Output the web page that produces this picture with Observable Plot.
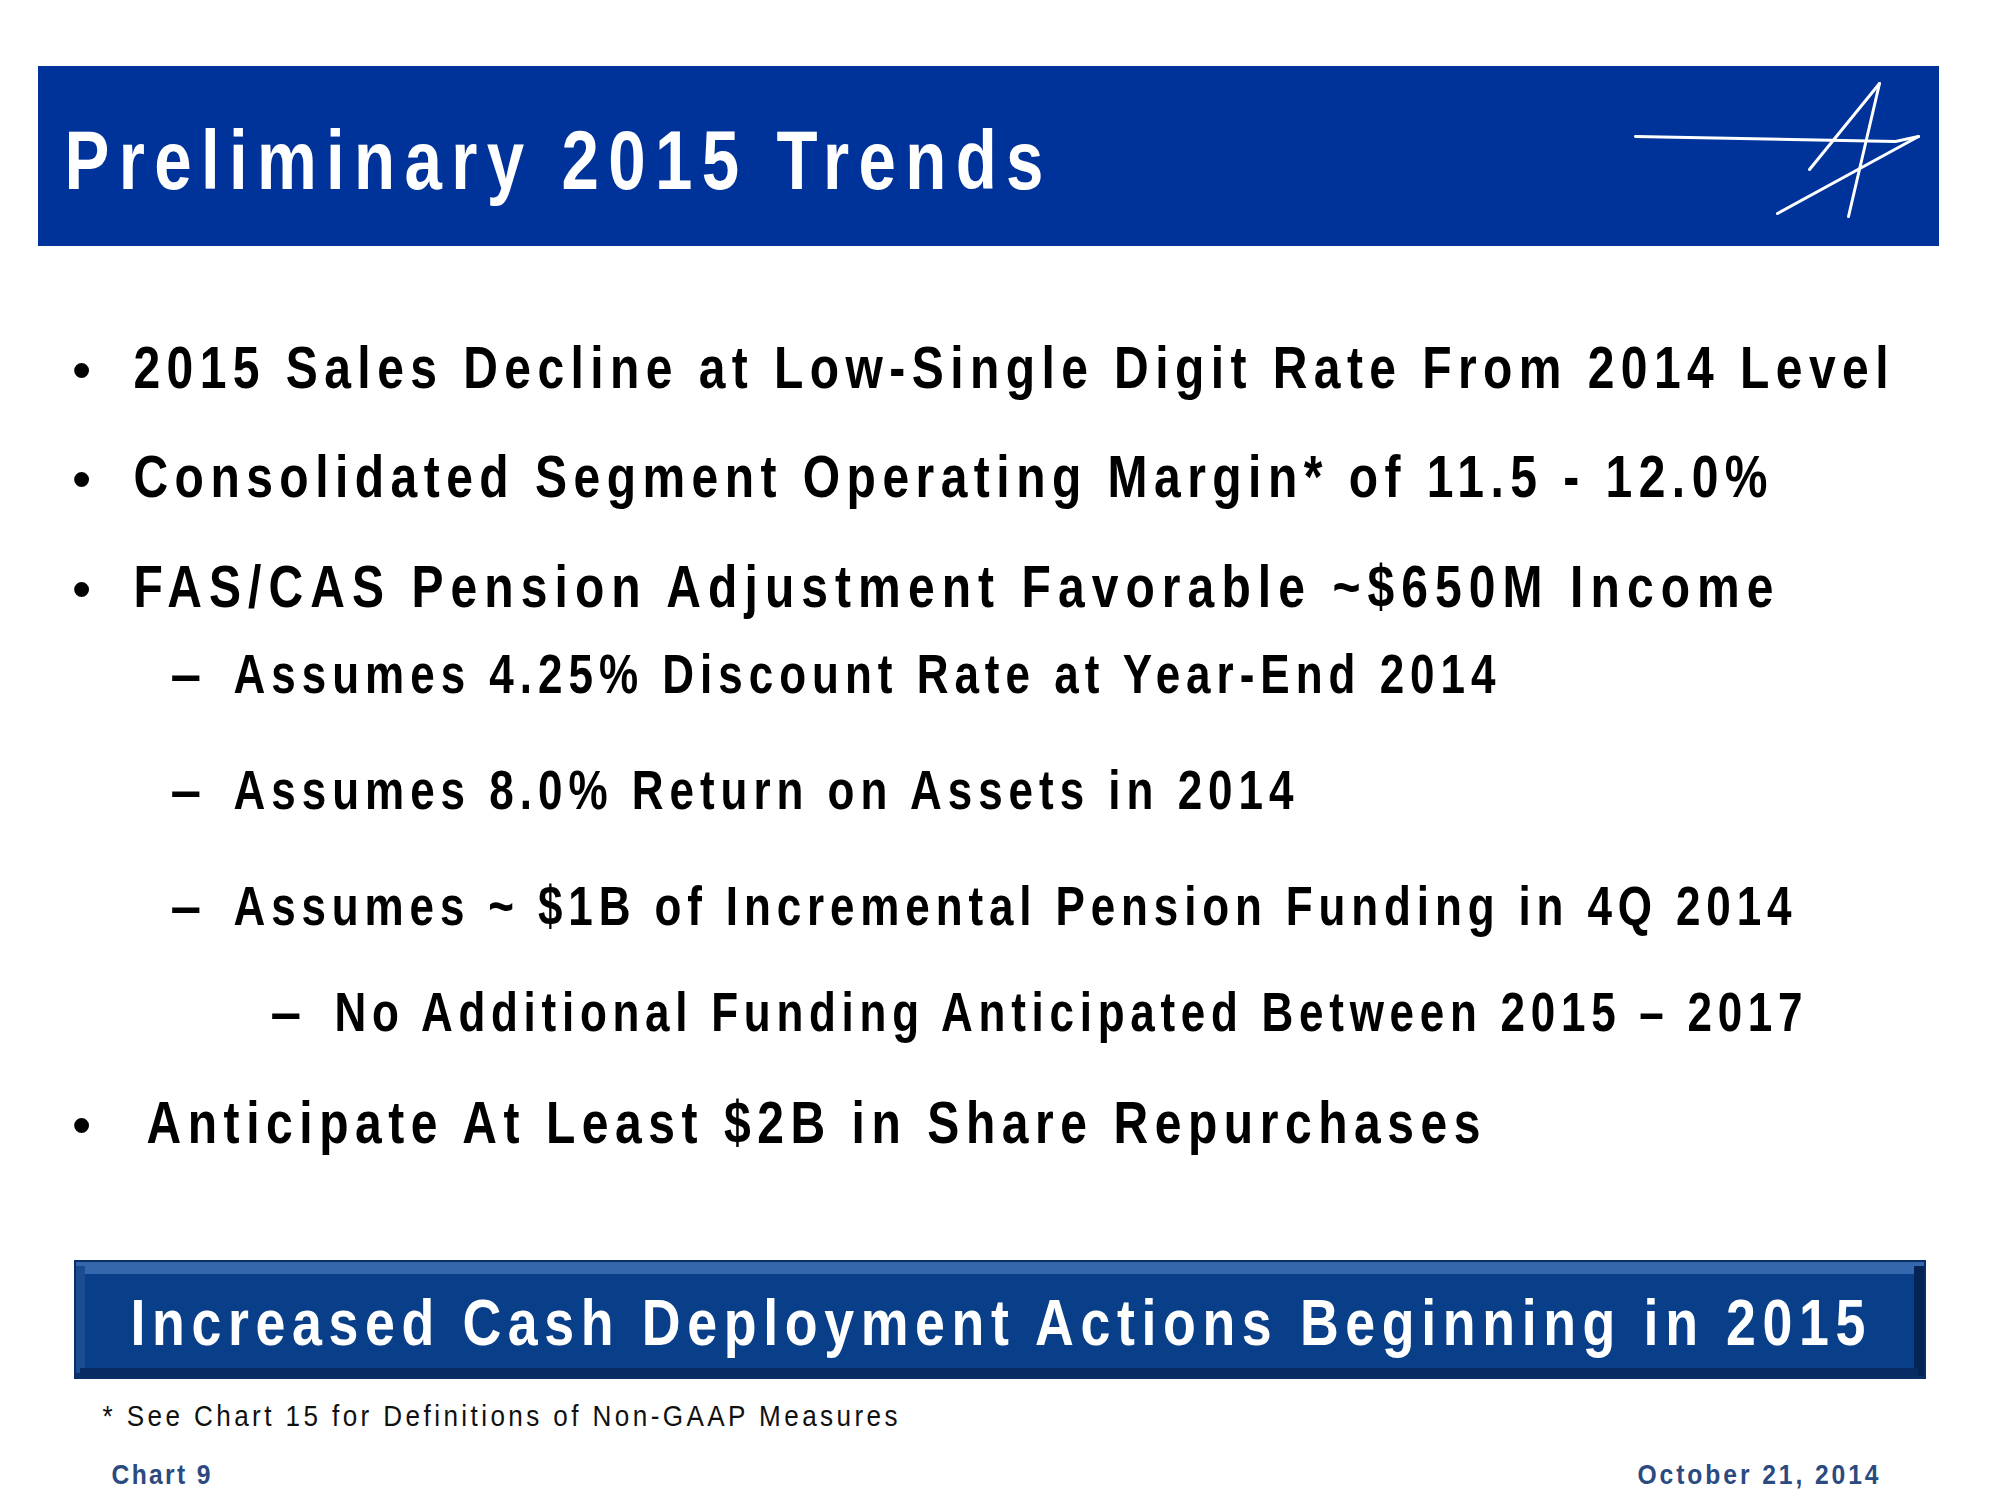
<!DOCTYPE html>
<html>
<head>
<meta charset="utf-8">
<script src="https://cdn.jsdelivr.net/npm/d3@7"></script>
<script src="https://cdn.jsdelivr.net/npm/@observablehq/plot@0.6"></script>
<style>
  html, body { margin: 0; padding: 0; background: #ffffff; }
  #chart svg { display: block; }
</style>
</head>
<body>
<div id="chart"></div>
<script>
// ---------- content (text only) ----------
const titleText = "Preliminary 2015 Trends";
const bulletLevels = [1, 1, 1, 2, 2, 2, 3, 1];
const bulletTexts = [
  "2015 Sales Decline at Low-Single Digit Rate From 2014 Level",
  "Consolidated Segment Operating Margin* of 11.5 - 12.0%",
  "FAS/CAS Pension Adjustment Favorable ~$650M Income",
  "Assumes 4.25% Discount Rate at Year-End 2014",
  "Assumes 8.0% Return on Assets in 2014",
  "Assumes ~ $1B of Incremental Pension Funding in 4Q 2014",
  "No Additional Funding Anticipated Between 2015 – 2017",
  "Anticipate At Least $2B in Share Repurchases"
];
const bannerText = "Increased Cash Deployment Actions Beginning in 2015";
const footnoteText = "* See Chart 15 for Definitions of Non-GAAP Measures";
const chartLabel = "Chart 9";
const dateLabel = "October 21, 2014";

// ---------- layout (page pixels) ----------
const W = 2000, H = 1500;
const FONT = "'Liberation Sans', Arial, sans-serif";
const NARROW = 0.8; // horizontal glyph compression (slide uses a narrow face)
const lineBaselines = [387, 496, 606, 692, 808, 924, 1030, 1142];
const lineStarts = [133, 133, 133, 233, 233, 233, 334, 146];
const lineEnds = [1888, 1767, 1773, 1495, 1293, 1791, 1802, 1480];
const markerX = {1: 72, 2: 170, 3: 270};
const levelSize = {1: 60, 2: 55, 3: 55};

const rows = bulletTexts.map((t, i) => ({
  text: t,
  level: bulletLevels[i],
  marker: bulletLevels[i] === 1 ? "•" : "–",
  x: lineStarts[i],
  mx: markerX[bulletLevels[i]],
  y: lineBaselines[i],
  len: lineEnds[i] - lineStarts[i]
}));

const headerBar = [{x1: 38, x2: 1939, y1: 66, y2: 246, fill: "#003399"}];
const bannerRects = [
  {x1: 74, x2: 1926, y1: 1260, y2: 1379, fill: "#0a2f66"},
  {x1: 76, x2: 1924, y1: 1262, y2: 1274, fill: "#3567ad"},
  {x1: 76, x2: 85, y1: 1266, y2: 1373, fill: "#1b4b90"},
  {x1: 1914, x2: 1924, y1: 1266, y2: 1376, fill: "#052456"},
  {x1: 80, x2: 1918, y1: 1368, y2: 1377, fill: "#072c63"},
  {x1: 85, x2: 1914, y1: 1274, y2: 1368, fill: "#083f88"}
];

// logo strokes (page pixels)
const logo = [
  {id: "a", pts: [[1635, 136], [1895, 141], [1918, 136]]},
  {id: "b", pts: [[1918, 136], [1777, 213]]},
  {id: "c", pts: [[1879, 83], [1848, 216]]},
  {id: "d", pts: [[1879, 83], [1809, 169]]}
];
const logoPts = logo.flatMap(s => s.pts.map(([x, y]) => ({id: s.id, x, y})));

const singles = [
  {text: titleText, x: 64, y: 188, size: 84, fill: "#ffffff", weight: "bold", len: 979, squeeze: 0.8},
  {text: bannerText, x: 130, y: 1344, size: 64, fill: "#ffffff", weight: "bold", len: 1735, squeeze: 0.84},
  {text: footnoteText, x: 102, y: 1425, size: 29, fill: "#111111", weight: "normal", len: 795, squeeze: 0.9},
  {text: chartLabel, x: 111, y: 1483, size: 28, fill: "#2b4a80", weight: "bold", len: 99, squeeze: 0.88},
  {text: dateLabel, x: 1637, y: 1483, size: 28, fill: "#2b4a80", weight: "bold", len: 241, squeeze: 0.88}
];

const marks = [
  Plot.rect(headerBar, {x1: "x1", x2: "x2", y1: "y1", y2: "y2", fill: "fill"}),
  Plot.rect(bannerRects, {x1: "x1", x2: "x2", y1: "y1", y2: "y2", fill: "fill"}),
  Plot.line(logoPts, {x: "x", y: "y", z: "id", stroke: "#ffffff", strokeWidth: 3, strokeLinecap: "round"})
];
for (const s of singles) {
  marks.push(Plot.text([s], {
    x: "x", y: "y", text: "text", textAnchor: "start", lineAnchor: "bottom",
    fill: s.fill, fontSize: s.size, fontWeight: s.weight, fontFamily: FONT
  }));
}
const rowGroups = [rows.filter(r => r.level === 1), rows.filter(r => r.level > 1)];
rowGroups.forEach((sub, gi) => {
  const size = gi === 0 ? levelSize[1] : levelSize[2];
  marks.push(Plot.text(sub, {
    x: "mx", y: "y", text: "marker", textAnchor: "start", lineAnchor: "bottom",
    fill: "#000000", fontSize: gi === 0 ? 52 : size, fontWeight: "bold", fontFamily: FONT
  }));
  marks.push(Plot.text(sub, {
    x: "x", y: "y", text: "text", textAnchor: "start", lineAnchor: "bottom",
    fill: "#000000", fontSize: size, fontWeight: "bold", fontFamily: FONT
  }));
});

const chart = Plot.plot({
  width: W, height: H,
  margin: 0,
  x: {domain: [0, W], range: [0, W], axis: null},
  y: {domain: [0, H], range: [0, H], axis: null},
  style: {background: "#ffffff", fontFamily: FONT},
  marks
});

// text groups in mark order: 5 singles, markers L1, rows L1, markers L2, rows L2
const textGroups = chart.querySelectorAll('g[aria-label="text"]');
function fit(group, lengths, squeeze) {
  group.querySelectorAll("text").forEach((n, i) => {
    const t = n.getAttribute("transform") || "";
    n.setAttribute("transform", `${t} scale(${squeeze},1)`);
    if (lengths && lengths[i] != null) {
      n.setAttribute("textLength", lengths[i] / squeeze);
      n.setAttribute("lengthAdjust", "spacing");
    }
  });
}
singles.forEach((s, i) => fit(textGroups[i], [s.len], s.squeeze));
fit(textGroups[5], null, 1);
fit(textGroups[6], rowGroups[0].map(r => r.len), NARROW);
fit(textGroups[7], null, 1);
fit(textGroups[8], rowGroups[1].map(r => r.len), NARROW);

document.getElementById("chart").appendChild(chart);
</script>
</body>
</html>
